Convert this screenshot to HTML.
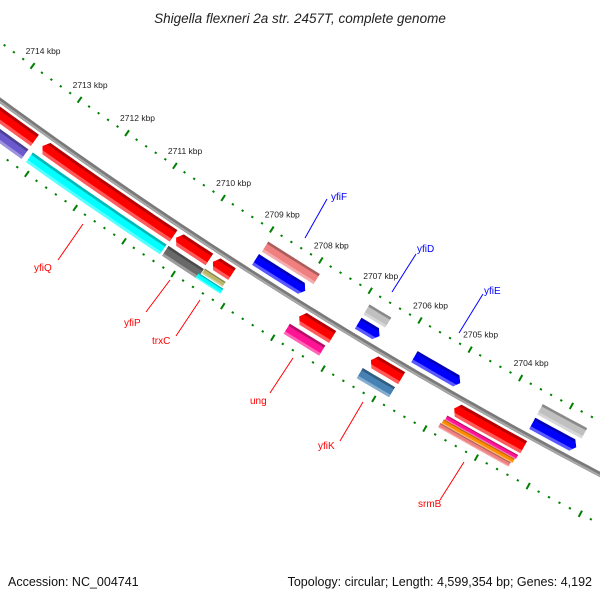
<!DOCTYPE html>
<html><head><meta charset="utf-8"><style>
html,body{margin:0;padding:0;background:#fff;}
svg{display:block;font-family:"Liberation Sans",sans-serif;}
</style></head><body>
<svg id="map" width="600" height="600" viewBox="0 0 600 600" xmlns="http://www.w3.org/2000/svg">
<text x="300" y="23" text-anchor="middle" font-size="13.5" font-style="italic" fill="#222">Shigella flexneri 2a str. 2457T, complete genome</text>
<g id="ticks"></g>
<g id="backbone"></g>
<g id="feats"></g>
<g id="labels"></g>
<text x="8" y="586" font-size="12.5" fill="#111">Accession: NC_004741</text>
<text x="592" y="586" font-size="12.5" fill="#111" text-anchor="end">Topology: circular; Length: 4,599,354 bp; Genes: 4,192</text>
</svg>
<script>
// ---- data ----
const tickKbp = [2700,2701,2702,2703,2704,2705,2706,2707,2708,2709,2710,2711,2712,2713,2714,2715,2716];
const labelKbp = [2704,2705,2706,2707,2708,2709,2710,2711,2712,2713,2714];
const featStart = [2714.6,2713.06,2710.30,2709.55,2707.81,2706.38,2704.74, 2714.6,2713.13,2710.33,2709.60,2709.65,2707.88,2706.43,2704.78,2704.80,2704.82, 2708.96,2706.89,2705.77,2703.45, 2708.94,2706.89,2703.45];
const featEnd   = [2713.22,2710.35,2709.62,2709.16,2707.14,2705.77,2703.38, 2713.22,2710.37,2709.61,2709.18,2709.15,2707.17,2705.79,2703.40,2703.42,2703.45, 2707.95,2706.46,2704.86,2702.59, 2707.89,2706.45,2702.58];
const featTrack = ['L1','L1','L1','L1','L1','L1','L1', 'L2','L2','L2','L2a','L2b','L2','L2','S1','S2','S3', 'U1','U1','U1','U1', 'U2','U2','U2'];
const featArrow = [-1,-1,-1,-1,-1,-1,-1, 0,0,0,0,0,0,0,0,0,0, 1,1,1,1, 0,0,0];
const featColor = ['#ff0000','#ff0000','#ff0000','#ff0000','#ff0000','#ff0000','#ff0000',
 '#6a5acd','#00ffff','#696969','#bdb76b','#00ffff','#ff1493','#4682b4','#ff1493','#ff8c00','#f08080',
 '#0000ff','#0000ff','#0000ff','#0000ff','#f08080','#c0c0c0','#c0c0c0'];
const trackNames = ['U2','U1','L1','L2','L2a','L2b','S1','S2','S3'];
const trackOffset = [-29,-13,12,29,25,32,24,29,34];
const trackWidth = [12,13,14,12,6,6,5,5,5];

// ---- axis ----
const CX=2814, CY=-3745, R=4765;
function ang(k){return (125.42+(k-2713)*0.704)*Math.PI/180;}
function P(k,ro){const t=ang(k),r=R+ro;return [CX+r*Math.cos(t),CY+r*Math.sin(t)];}
const NS='http://www.w3.org/2000/svg';
function mk(tag,parent){const e=document.createElementNS(NS,tag);parent.appendChild(e);return e;}
function arcPts(k1,k2,ro){const pts=[];const n=Math.max(2,Math.ceil(Math.abs(k2-k1)*8));for(let i=0;i<=n;i++){pts.push(P(k1+(k2-k1)*i/n,ro));}return pts;}
const ptStr=a=>a.map(p=>p[0].toFixed(2)+','+p[1].toFixed(2)).join(' ');

// ticks
const tg=document.getElementById('ticks');
[-47,44].forEach((ro,ri)=>{
  for(let k=tickKbp[0];k<=tickKbp[tickKbp.length-1]+0.001;k+=0.2){
    const isMajor=Math.abs(k-Math.round(k))<0.01;
    const l=isMajor?3.5:1;
    const a=P(k,ro-l),b=P(k,ro+l);
    const ln=mk('line',tg);
    
    
    ln.setAttribute('x1',a[0]);ln.setAttribute('y1',a[1]);ln.setAttribute('x2',b[0]);ln.setAttribute('y2',b[1]);
    ln.setAttribute('stroke','#008000');ln.setAttribute('stroke-width',isMajor?2:2.2);
  }
});
labelKbp.forEach(k=>{
  const p=P(k,-47);
  const t=mk('text',tg);
  
  
  t.setAttribute('x',p[0]-7);t.setAttribute('y',p[1]-12);
  t.setAttribute('font-size','8.5');t.setAttribute('fill','#222');
  t.textContent=k+' kbp';
});

// backbone
const bg=document.getElementById('backbone');
[[0,5,'#7a7a7a'],[1.2,2,'#a8a8a8']].forEach(s=>{
  const pl=mk('polyline',bg);
  
  
  pl.setAttribute('points',ptStr(arcPts(2717,2699,s[0])));
  pl.setAttribute('fill','none');pl.setAttribute('stroke',s[2]);pl.setAttribute('stroke-width',s[1]);
});

// features
const fg=document.getElementById('feats');
const defs=mk('defs',fg);
featStart.forEach((s,i)=>{
  const ti=trackNames.indexOf(featTrack[i]);
  const ro=trackOffset[ti],w=trackWidth[ti];
  const r1=ro-w/2,r2=ro+w/2;
  const hi=Math.max(s,featEnd[i]),lo=Math.min(s,featEnd[i]);
  const h=0.08;
  let pts;
  if(featArrow[i]===1){ // points toward lower kbp
    pts=arcPts(hi,lo+h,r2).concat([P(lo,ro)]).concat(arcPts(lo+h,hi,r1));
  }else if(featArrow[i]===-1){
    pts=arcPts(lo,hi-h,r2).concat([P(hi,ro)]).concat(arcPts(hi-h,lo,r1));
  }else{
    pts=arcPts(hi,lo,r2).concat(arcPts(lo,hi,r1));
  }
  const cp=mk('clipPath',defs);cp.setAttribute('id','cp'+i);
  const cpp=mk('polygon',cp);cpp.setAttribute('points',ptStr(pts));
  const g=mk('g',fg);
  
  
  g.setAttribute('clip-path','url(#cp'+i+')');
  const base=mk('polygon',g);base.setAttribute('points',ptStr(pts));base.setAttribute('fill',featColor[i]);
  const dark=mk('polygon',g);
  dark.setAttribute('points',ptStr(arcPts(hi+0.2,lo-0.2,r1+w*0.22).concat(arcPts(lo-0.2,hi+0.2,r1-1))));
  dark.setAttribute('fill','rgba(0,0,0,0.28)');
  const lite=mk('polygon',g);
  lite.setAttribute('points',ptStr(arcPts(hi+0.2,lo-0.2,r2+1).concat(arcPts(lo-0.2,hi+0.2,r2-w*0.25))));
  lite.setAttribute('fill','rgba(255,255,255,0.35)');
});

// labels
const lg=document.getElementById('labels');
const labs=[
 ['yfiQ',34,271,83,224,58,260,'#ff0000'],
 ['yfiP',124,326,170,280,146,312,'#ff0000'],
 ['trxC',152,344,200,300,176,336,'#ff0000'],
 ['ung',250,404,293,358,270,393,'#ff0000'],
 ['yfiK',318,449,363,402,340,441,'#ff0000'],
 ['srmB',418,507,464,462,440,500,'#ff0000'],
 ['yfiF',331,200,305,238,327,199,'#0000ff'],
 ['yfiD',417,252,392,292,416,254,'#0000ff'],
 ['yfiE',484,294,459,333,483,294,'#0000ff']];
labs.forEach(l=>{
  const ln=mk('line',lg);
  
  
  ln.setAttribute('x1',l[3]);ln.setAttribute('y1',l[4]);ln.setAttribute('x2',l[5]);ln.setAttribute('y2',l[6]);
  ln.setAttribute('stroke',l[7]);ln.setAttribute('stroke-width',1);
  const t=mk('text',lg);
  
  
  t.setAttribute('x',l[1]);t.setAttribute('y',l[2]);t.setAttribute('font-size','10');t.setAttribute('fill',l[7]);
  t.textContent=l[0];
});
</script>
</body></html>
